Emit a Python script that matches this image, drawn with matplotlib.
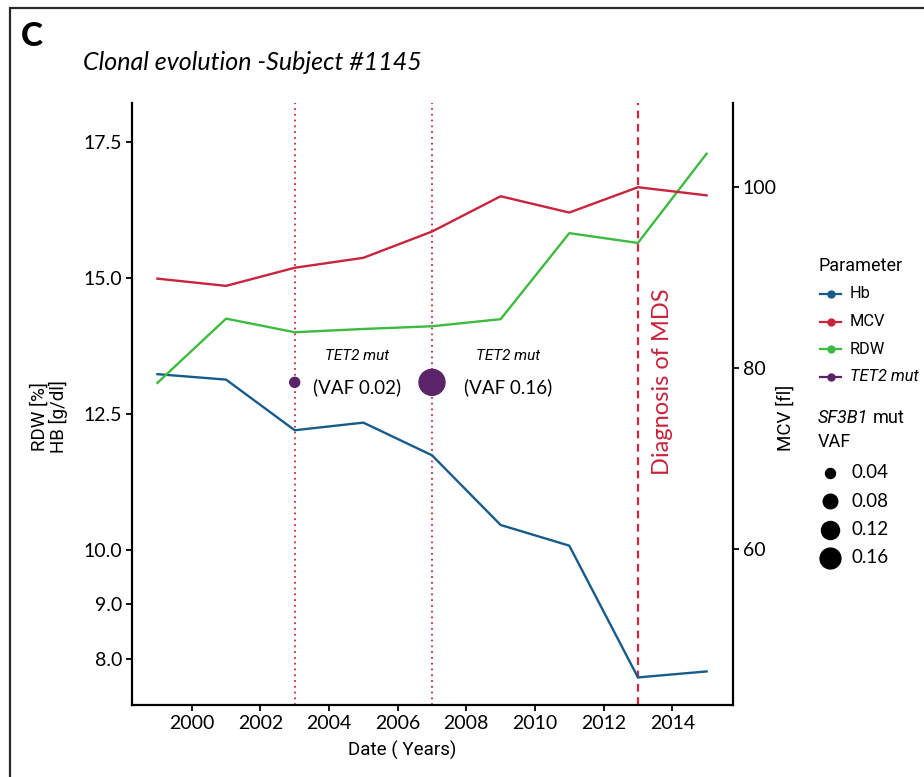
import numpy as np
import matplotlib.pyplot as plt
from matplotlib.lines import Line2D
from matplotlib.patches import Rectangle

# data
years = [1999, 2001, 2003, 2005, 2007, 2009, 2011, 2013, 2015]
hb = [13.23, 13.13, 12.20, 12.34, 11.74, 10.46, 10.08, 7.66, 7.77]
rdw = [13.07, 14.25, 14.00, 14.06, 14.11, 14.24, 15.82, 15.64, 17.28]
mcv = [89.9, 89.1, 91.1, 92.2, 95.1, 99.0, 97.2, 100.0, 99.1]

tet2_years = [2003, 2007]
tet2_y = [13.08, 13.08]
tet2_vaf = [0.02, 0.16]

left_ticks = [8.0, 9.0, 10.0, 12.5, 15.0, 17.5]
right_ticks = [60, 80, 100]
x_ticks = [2000, 2002, 2004, 2006, 2008, 2010, 2012, 2014]
sf3b1_levels = [0.04, 0.08, 0.12, 0.16]

c_hb = '#165b8b'
c_mcv = '#c8243c'
c_rdw = '#3dba40'
c_tet2 = '#5b2468'
c_vline = '#d0263e'

plain = ['Lato', 'DejaVu Sans']
narrow = ['Roboto', 'DejaVu Sans']
plt.rcParams['font.family'] = plain

fig = plt.figure(figsize=(9.24, 7.77), dpi=100)
ax = fig.add_axes([0.1425, 0.0927, 0.6508, 0.7747])
ax2 = ax.twinx()

ax.plot(years, hb, color=c_hb, lw=1.7)
ax.plot(years, rdw, color=c_rdw, lw=1.7)
ax2.plot(years, mcv, color=c_mcv, lw=1.7)

# TET2 points, size from VAF
ax.scatter(tet2_years, tet2_y, s=[52, 350], color=c_tet2, zorder=5)

# event lines
for yr in tet2_years:
    ax.axvline(yr, color=c_vline, lw=1.3, ls=(0, (1, 2.2)), zorder=1)
ax.axvline(2013, color=c_vline, lw=1.6, ls=(0, (3.5, 2.5)), zorder=1)

ax.text(2013.73, 13.09, 'Diagnosis of MDS', rotation=90, color=c_mcv,
        fontsize=17, ha='center', va='center')
for xt, vaf in zip([2004.83, 2009.21], tet2_vaf):
    ax.text(xt, 13.56, 'TET2 mut', style='italic', fontsize=11,
            family=narrow, ha='center', va='center')
    ax.text(xt, 12.99, '(VAF %.2f)' % vaf, fontsize=13.5,
            ha='center', va='center')

ax.set_xlim(1998.25, 2015.77)
ax.set_ylim(7.154, 18.21)
ax2.set_ylim(42.8, 109.3)
ax.set_xticks(x_ticks)
ax.set_yticks(left_ticks)
ax.set_yticklabels(['%.1f' % t for t in left_ticks])
ax2.set_yticks(right_ticks)

for a in (ax, ax2):
    a.spines['top'].set_visible(False)
    for s in ('left', 'right', 'bottom'):
        a.spines[s].set_linewidth(1.6)
    a.tick_params(width=1.3, length=4, labelsize=14, pad=3)
ax.spines['right'].set_visible(False)
ax2.spines['left'].set_visible(False)
ax2.spines['bottom'].set_visible(False)

# axis labels
fig.text(402 / 924, 1 - 750 / 777, 'Date ( Years)', family=narrow, fontsize=13.5,
         ha='center', va='center')
fig.text(49 / 924, 1 - 417 / 777, 'RDW [%]\nHB [g/dl]', family=narrow, fontsize=13.5,
         rotation=90, ha='center', va='center', linespacing=1.0)
fig.text(786 / 924, 1 - 418 / 777, 'MCV [fl]', family=narrow, fontsize=13.5,
         rotation=90, ha='center', va='center')

# title and panel letter
fig.text(21 / 924, 1 - 37 / 777, 'C', fontsize=24, weight='black', va='center')
fig.text(83 / 924, 1 - 63 / 777, 'Clonal evolution -Subject #1145', style='italic',
         fontsize=18, va='center')

# outer frame
fig.patches.append(Rectangle((10 / 924, -0.05), 1.2, 1 - 8 / 777 + 0.05,
                             transform=fig.transFigure, fill=False,
                             edgecolor='#2a2a2a', lw=1.6))

# legend: Parameter
fx = lambda px: px / 924
fy = lambda py: 1 - py / 777
fig.text(fx(818), fy(266), 'Parameter', family=narrow, fontsize=13, va='center')
entries = [('Hb', c_hb, 'normal'), ('MCV', c_mcv, 'normal'),
           ('RDW', c_rdw, 'normal'), ('TET2 mut', c_tet2, 'italic')]
for i, (lab, col, st) in enumerate(entries):
    yy = fy(294 + i * 27.5)
    fig.add_artist(Line2D([fx(820), fx(841)], [yy, yy], color=col, lw=1.6,
                          transform=fig.transFigure))
    fig.add_artist(Line2D([fx(830.5)], [yy], color=col, marker='o', ms=5,
                          transform=fig.transFigure))
    fig.text(fx(850), yy, lab, family=narrow, fontsize=11.8, style=st, va='center')

# legend: SF3B1 VAF sizes
t_sf = fig.text(fx(818), fy(418), 'SF3B1', family=narrow, fontsize=13, style='italic',
                va='center')
fig.canvas.draw()
bb = t_sf.get_window_extent(renderer=fig.canvas.get_renderer())
fig.text(fx(bb.x1 + 4), fy(418), 'mut', family=narrow, fontsize=13, va='center')
fig.text(fx(818), fy(442), 'VAF', family=narrow, fontsize=13, va='center')
size_ms = [7.2, 10.5, 13, 15]
for i, (lvl, ms) in enumerate(zip(sf3b1_levels, size_ms)):
    yy = fy(473 + i * 28.3)
    fig.add_artist(Line2D([fx(830)], [yy], color='black', marker='o', ms=ms,
                          transform=fig.transFigure))
    fig.text(fx(851), yy, '%.2f' % lvl, fontsize=13.5, va='center')

fig.savefig('out.png', dpi=100)
